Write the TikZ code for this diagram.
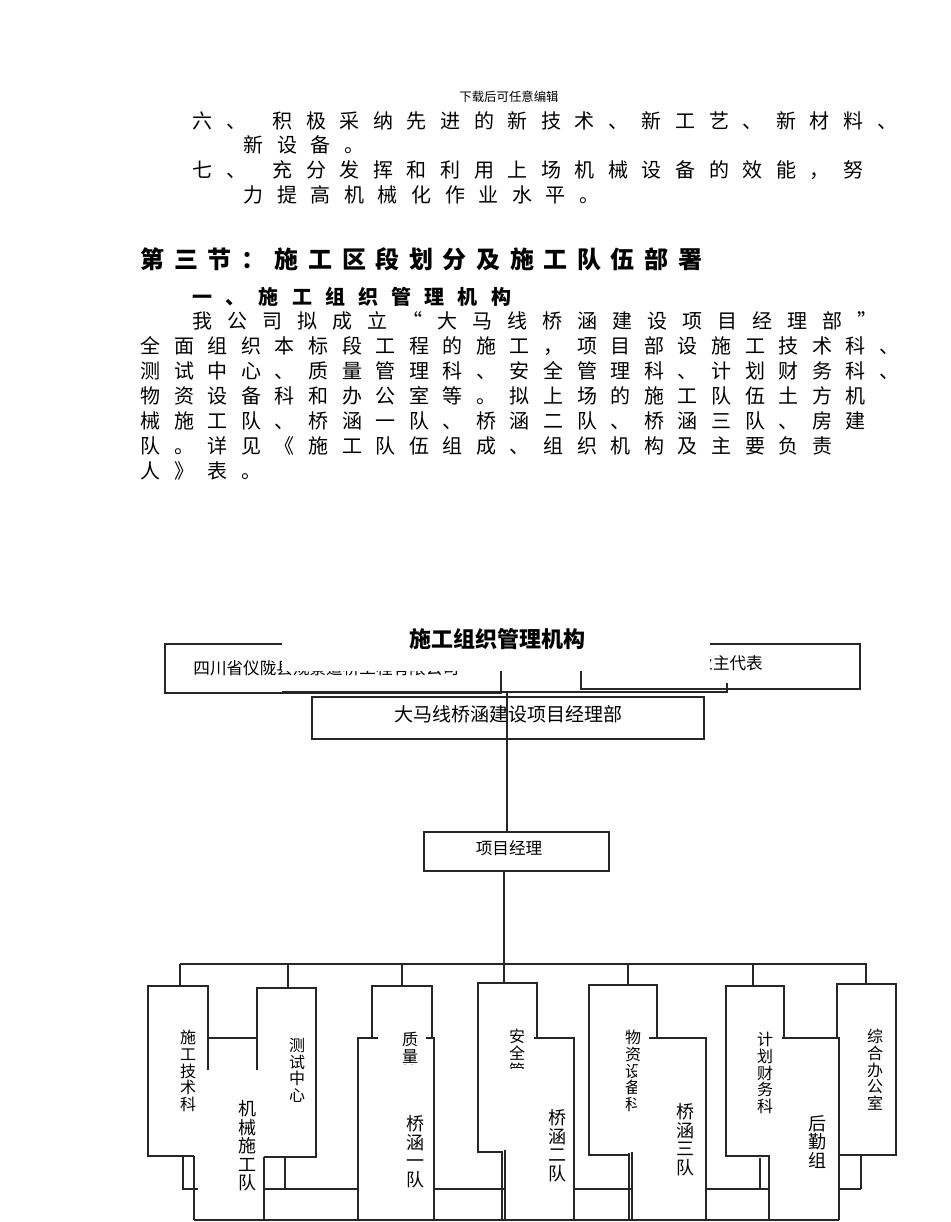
\documentclass[tikz,border=0pt]{standalone}
\usepackage{fontspec}
\setmainfont{Noto Sans CJK SC}
\usetikzlibrary{positioning}
\makeatletter
% one character per cell of fixed pitch
\newcommand\gridtext[2]{\@tfor\gt@ch:=#2\do{\makebox[#1][l]{\gt@ch}}}
\makeatother

\begin{document}
\begin{tikzpicture}[x=0.5pt,y=-0.5pt,
  ln/.style={line width=0.65pt,black!85},
  body/.style={inner sep=0pt,anchor=west,font=\fontsize{10pt}{12pt}\selectfont},
  bhead/.style={inner sep=0pt,anchor=west,font=\fontsize{12pt}{14pt}\selectfont\bfseries},
  bsub/.style={inner sep=0pt,anchor=west,font=\fontsize{10pt}{12pt}\selectfont\bfseries},
  box/.style={draw=black!85,line width=0.65pt,fill=white,inner sep=0pt},
  boxtext/.style={inner sep=0pt,font=\fontsize{8.3pt}{10pt}\selectfont},
  deptlab/.style={inner sep=0pt,anchor=north,align=center,font=\fontsize{8pt}{8.3pt}\selectfont},
  teamlab/.style={inner sep=0pt,anchor=north,align=center,font=\fontsize{9pt}{9.3pt}\selectfont}]
\fill[white] (0,0) rectangle (950,1222);
\useasboundingbox (0,0) rectangle (950,1222);
%
\node[inner sep=0pt,font=\fontsize{6.2pt}{7pt}\selectfont] (dlhead) at (509,97) {下载后可任意编辑};
\node[body] (l1a) at (192,121) {\gridtext{16.8pt}{六、}};
\node[body] (l1b) at (272,121) {\gridtext{16.8pt}{积极采纳先进的新技术、新工艺、新材料、}};
\node[body] (l2) at (243,145) {\gridtext{16.8pt}{新设备。}};
\node[body] (l3a) at (192,170) {\gridtext{16.8pt}{七、}};
\node[body] (l3b) at (272,170) {\gridtext{16.8pt}{充分发挥和利用上场机械设备的效能，努}};
\node[body] (l4) at (243,195) {\gridtext{16.8pt}{力提高机械化作业水平。}};
\node[bhead] (sec) at (140,259) {\gridtext{16.8pt}{第三节：施工区段划分及施工队伍部署}};
\node[bsub] (sub) at (192,297) {\gridtext{16.6pt}{一、施工组织管理机构}};
\node[body] (p1) at (192,321) {\gridtext{17.5pt}{我公司拟成立“大马线桥涵建设项目经理部”}};
\node[body] (p2) at (140,346) {\gridtext{16.8pt}{全面组织本标段工程的施工，项目部设施工技术科、}};
\node[body] (p3) at (140,371) {\gridtext{16.8pt}{测试中心、质量管理科、安全管理科、计划财务科、}};
\node[body] (p4) at (140,396) {\gridtext{16.8pt}{物资设备科和办公室等。拟上场的施工队伍土方机}};
\node[body] (p5) at (140,421) {\gridtext{16.8pt}{械施工队、桥涵一队、桥涵二队、桥涵三队、房建}};
\node[body] (p6) at (140,446) {\gridtext{16.8pt}{队。详见《施工队伍组成、组织机构及主要负责}};
\node[body] (p7) at (140,471) {\gridtext{16.8pt}{人》表。}};
%
% top boxes
\node[box,minimum width=168pt,minimum height=24.5pt] (comp) at (333,668.5) {};
\node[boxtext,anchor=west] (compt) at (193,668) {四川省仪陇县规景道桥工程有限公司};
\node[box,minimum width=139.5pt,minimum height=22.5pt] (owner) at (720.5,666.5) {};
\node[boxtext,anchor=west] (ownert) at (696,663) {业主代表};
\fill[white] (282,612) rectangle (710,671);
\node[inner sep=0pt,font=\fontsize{11pt}{13pt}\selectfont\bfseries] (title) at (497,639) {施工组织管理机构};
\draw[ln] (283,694) -- (283,692) -- (727,692) -- (727,683);
%
\node[box,minimum width=196pt,minimum height=21pt] (xmb) at (508,718) {};
\node[inner sep=0pt,font=\fontsize{9.5pt}{11pt}\selectfont] (xmbt) at (508,714) {大马线桥涵建设项目经理部};
\node[box,minimum width=92.5pt,minimum height=19.5pt] (pm) at (516.5,851.5) {};
\node[boxtext] (pmt) at (509,848) {项目经理};
\coordinate (join) at (507,692);
\draw[ln] (join) -- (join |- pm.north);
\coordinate (bus-l) at (180,964);
\coordinate (bus-r) at (867,964);
\draw[ln] (504,871) -- (504,983);
\draw[ln] (bus-l) -- (bus-r);
\foreach \x/\y in {180/986,288/988,402/986,628/985,753/986,866/984}
  \draw[ln] (\x,964) -- (\x,\y);
%
% departments and teams
\draw[ln] (208,1070) -- (208,986) -- (148,986) -- (148,1156) -- (194,1156);
\draw[ln] (257,1070) -- (257,988) -- (316,988) -- (316,1157) -- (264,1157);
\draw[ln] (208,1038) -- (257,1038);
\draw[ln] (194,1156) -- (194,1220);
\draw[ln] (264,1157) -- (264,1220);
\draw[ln] (372,1038) -- (372,986) -- (432,986) -- (432,1038);
\draw[ln] (378,1038) -- (358,1038) -- (358,1220);
\draw[ln] (426,1038) -- (434,1038) -- (434,1220);
\draw[ln] (537,1038) -- (537,983) -- (478,983) -- (478,1152) -- (503,1152);
\draw[ln] (534,1038) -- (574,1038) -- (574,1220);
\draw[ln] (502,1152) -- (502,1220);
\draw[ln] (505,1150) -- (505,1220);
\draw[ln] (657,1038) -- (657,985) -- (589,985) -- (589,1155) -- (630,1155);
\draw[ln] (649,1038) -- (706,1038) -- (706,1220);
\draw[ln] (629,1153) -- (629,1220);
\draw[ln] (632,1152) -- (632,1220);
\draw[ln] (784,1038) -- (784,986) -- (726,986) -- (726,1156) -- (769,1156);
\draw[ln] (782,1038) -- (839,1038) -- (839,1220);
\draw[ln] (769,1155) -- (769,1220);
\draw[ln] (837,1038) -- (837,984) -- (896,984) -- (896,1155) -- (839,1155);
%
% lower links
\draw[ln] (183,1156) -- (183,1189) -- (198,1189);
\draw[ln] (285,1157) -- (285,1189);
\draw[ln] (760,1158) -- (760,1189);
\draw[ln] (861,1155) -- (861,1189);
\foreach \a/\b in {264/358,434/505,574/632,706/769,839/861}
  \draw[ln] (\a,1189) -- (\b,1189);
\draw[ln] (194,1220) -- (839,1220);
%
\node[deptlab] (jsk) at (188,1030) {施\\工\\技\\术\\科};
\node[deptlab] (cszx) at (297,1038) {测\\试\\中\\心};
\begin{scope}
\clip (380,1020) rectangle (440,1064);
\node[deptlab] (zlk) at (410,1032) {质\\量\\管\\理\\科};
\end{scope}
\begin{scope}
\clip (490,1020) rectangle (545,1068);
\node[deptlab] (aqk) at (517,1029) {安\\全\\管\\理\\科};
\end{scope}
\begin{scope}
\clip (600,1020) -- (660,1020) -- (660,1064) -- (636,1064) -- (636,1130) -- (600,1130) -- cycle;
\node[deptlab] (wzk) at (633,1030) {物\\资\\设\\备\\科};
\end{scope}
\node[deptlab] (cwk) at (765,1032) {计\\划\\财\\务\\科};
\node[deptlab] (bgs) at (875,1029) {综\\合\\办\\公\\室};
\node[teamlab] (jxd) at (247,1100) {机\\械\\施\\工\\队};
\node[teamlab] (qh1) at (415,1115) {桥\\涵\\一\\队};
\node[teamlab] (qh2) at (557,1109) {桥\\涵\\二\\队};
\node[teamlab] (qh3) at (685,1103) {桥\\涵\\三\\队};
\node[teamlab] (hqz) at (817,1115) {后\\勤\\组};
\end{tikzpicture}
\end{document}
